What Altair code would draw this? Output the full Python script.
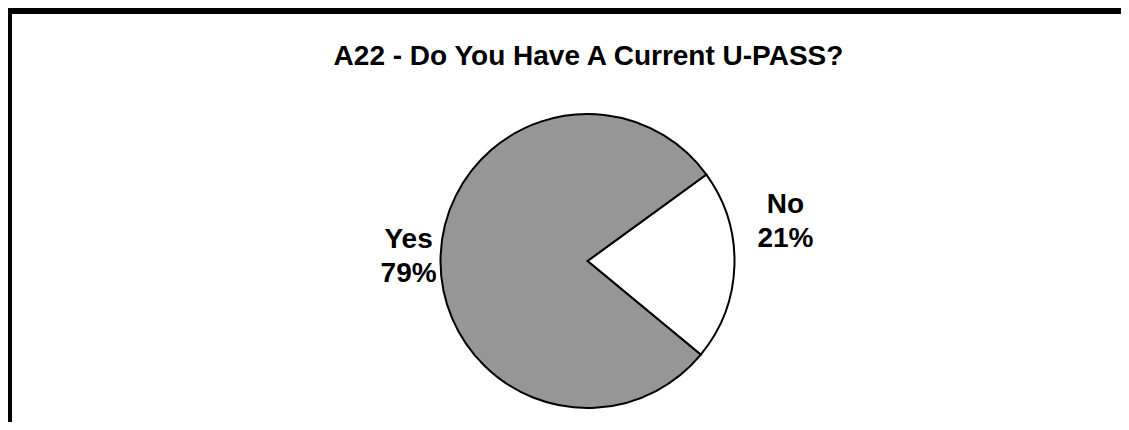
import altair as alt
import pandas as pd

categories = ["No", "Yes"]
values = [21, 79]
order_idx = [0, 1]
colors = ["#ffffff", "#969696"]
title_text = "A22 - Do You Have A Current U-PASS?"

df = pd.DataFrame({
    "category": categories,
    "value": values,
    "idx": order_idx,
    "label": [f"{c}\n{v}%" for c, v in zip(categories, values)],
})

W, H = 1113, 414
CX, CY, R = 579.5, 253, 147
START = 0.942
FONT = "Liberation Sans"
FS = 28
LH = 34

base = alt.Chart(df)

theta = alt.Theta("value:Q", stack=True,
                  scale=alt.Scale(range=[START, START + 2 * 3.141592653589793]))
order = alt.Order("idx:Q", sort="ascending")

pie = base.mark_arc(radius=R, stroke="black", strokeWidth=2).encode(
    theta=theta,
    order=order,
    color=alt.Color("category:N", scale=alt.Scale(domain=categories, range=colors), legend=None),
    x=alt.value(CX),
    y=alt.value(CY),
)


def label_layer(cat, dx, dy):
    return base.mark_text(
        radius=179, font=FONT, fontSize=FS, fontWeight="bold", lineBreak="\n",
        lineHeight=LH, align="center", baseline="middle", dx=dx, dy=dy,
    ).encode(
        theta=alt.Theta("value:Q", stack=True),
        order=order,
        text="label:N",
        x=alt.value(CX),
        y=alt.value(CY),
        opacity=alt.condition(alt.datum.category == cat, alt.value(1), alt.value(0)),
        color=alt.value("black"),
    )


yes_lbl = label_layer("Yes", 0, 2 - LH / 2)
no_lbl = label_layer("No", 19, -45 - LH / 2)

title = alt.Chart(pd.DataFrame({"t": [title_text]})).mark_text(
    font=FONT, fontSize=FS, fontWeight="bold", align="center", baseline="alphabetic", color="black",
).encode(text="t:N", x=alt.value(CX + 1), y=alt.value(57))

one = pd.DataFrame({"a": [0]})
top_rule = alt.Chart(one).mark_rule(color="black", strokeWidth=6).encode(
    x=alt.value(0), x2=alt.value(W), y=alt.value(3))
left_rule = alt.Chart(one).mark_rule(color="black", strokeWidth=4).encode(
    x=alt.value(2), y=alt.value(0), y2=alt.value(H))

chart = alt.layer(
    pie, yes_lbl, no_lbl, title, top_rule, left_rule
).properties(
    width=W, height=H, padding=0, autosize=alt.AutoSizeParams(type="none"),
).configure_view(stroke=None)

chart.save("out.html", embed_options={"renderer": "svg", "actions": False})
